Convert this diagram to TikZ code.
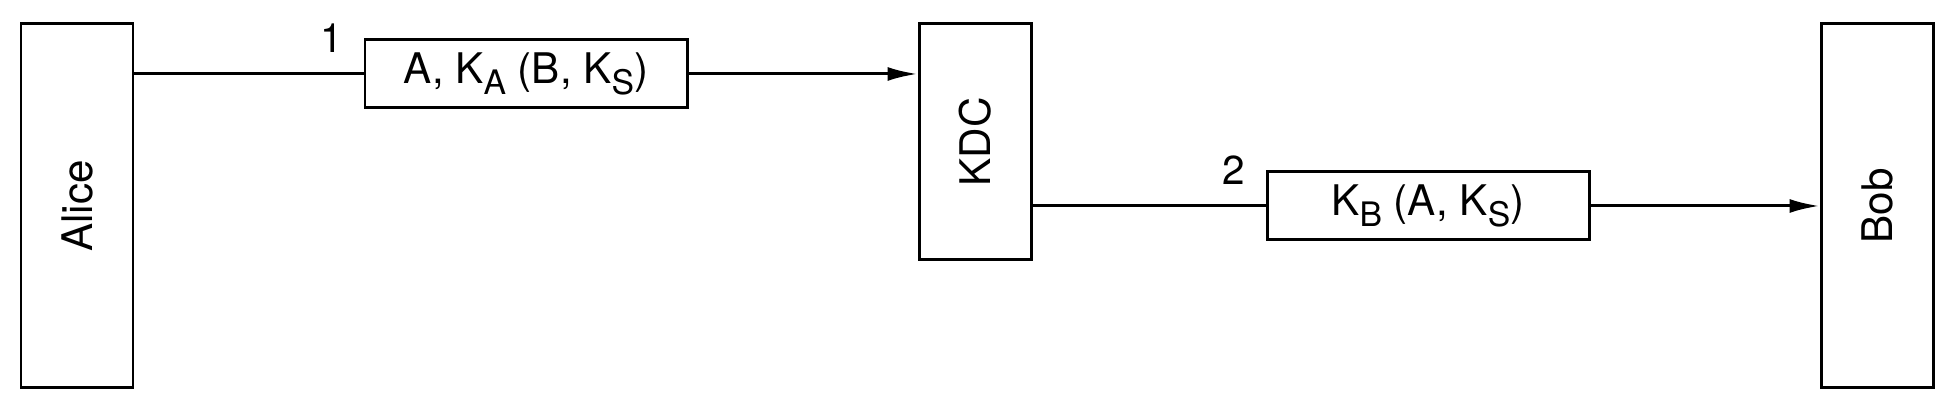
\documentclass[tikz,border=0pt]{standalone}
\usepackage{fontspec}
\setmainfont{TeX Gyre Heros}
\usetikzlibrary{arrows.meta,calc,positioning}
\newcommand{\sbs}[1]{\raisebox{-0.28em}{\fontsize{9.6}{10}\selectfont #1}}

\begin{document}
\begin{tikzpicture}[
  party/.style={draw,line width=0.85pt,minimum width=1.12cm,inner sep=0pt,font=\fontsize{12}{14}\selectfont},
  msgbox/.style={draw,line width=0.85pt,minimum width=3.22cm,minimum height=0.68cm,inner sep=0pt,font=\fontsize{12}{14}\selectfont},
  steplab/.style={inner sep=0pt,font=\fontsize{11.5}{13}\selectfont},
  conn/.style={line width=0.85pt}]
\useasboundingbox (0,0) rectangle (19.58,4.14);
% Le tre parti
\node[party,minimum height=3.64cm] (alice) at (0.77,2.08) {\rotatebox{90}{Alice}};
\node[party,minimum height=2.36cm] (kdc) at (9.75,2.72) {\rotatebox{90}{KDC}};
\node[party,minimum height=3.64cm] (bob) at (18.77,2.08) {\rotatebox{90}{Bob}};
% Messaggi
\node[msgbox] (msg1) at (5.26,3.40) {A, K\sbs{A} (B, K\sbs{S})};
\node[msgbox] (msg2) at (14.28,2.08) {K\sbs{B} (A, K\sbs{S})};
\node[steplab,left=0.2cm of msg1.north west] (n1) {1};
\node[steplab,left=0.2cm of msg2.north west] (n2) {2};
% Frecce
\draw[conn] (msg1.west -| alice.east) -- (msg1.west);
\draw[conn,-{Latex[length=3mm,width=1.4mm]}] (msg1.east) -- (msg1.east -| kdc.west);
\draw[conn] (msg2.west -| kdc.east) -- (msg2.west);
\draw[conn,-{Latex[length=3mm,width=1.4mm]}] (msg2.east) -- (msg2.east -| bob.west);
\end{tikzpicture}
\end{document}
